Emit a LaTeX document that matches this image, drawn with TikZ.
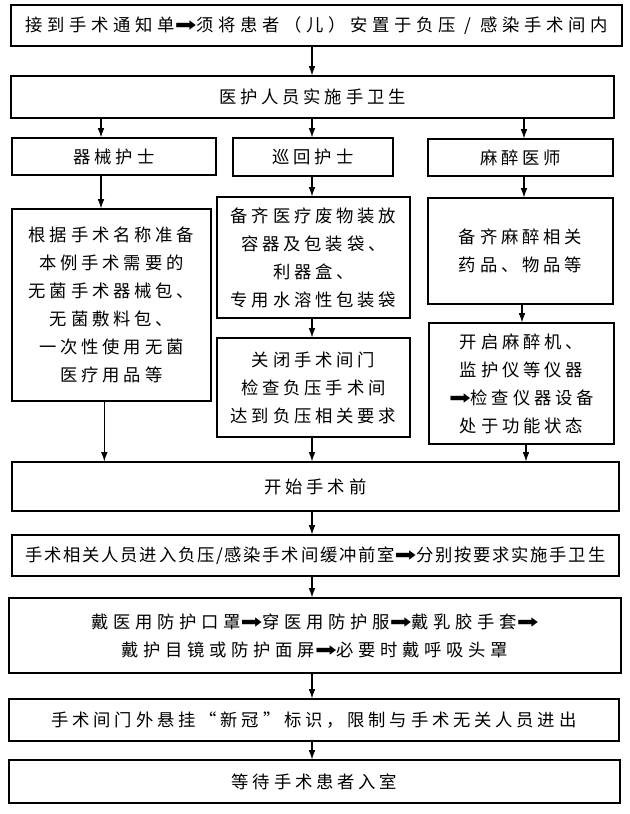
\documentclass[tikz,border=0pt]{standalone}
\usepackage{fontspec}
\usepackage{graphicx}
\usetikzlibrary{arrows.meta}
\newfontfamily\cjk[LetterSpace=22]{Noto Sans CJK SC}
\newfontfamily\cjkwide[LetterSpace=27]{Noto Sans CJK SC}
\newfontfamily\cjktight[LetterSpace=10]{Noto Sans CJK SC}
\newfontfamily\symfont{DejaVu Sans}
\newcommand{\rarr}{\scalebox{1.5}[1.1]{\symfont ➡}}

\begin{document}
\begin{tikzpicture}[x=0.75pt,y=-0.75pt,
   box/.style={draw,line width=0.8pt,inner sep=0pt,align=center,
     font=\cjk\fontsize{13}{21}\selectfont},
   wide/.style={font=\cjkwide\fontsize{13}{21}\selectfont},
   tight/.style={font=\cjktight\fontsize{13}{21}\selectfont},
   sz/.style 2 args={minimum width=#1*0.75pt,minimum height=#2*0.75pt},
   arr/.style={-{Latex[length=7pt,width=5pt]},line width=0.8pt}]
   \useasboundingbox (0,0) rectangle (630,814);
   \coordinate (cl) at (101,0);
   \coordinate (cm) at (312,0);
   \coordinate (cr) at (524,0);
   \node[box,wide,sz={611}{41}] (b1) at (316.5,25.5) {接到手术通知单\rarr 须将患者（儿）安置于负压 / 感染手术间内};
   \node[box,sz={603}{42}] (b2) at (312.5,97) {医护人员实施手卫生};
   \node[box,sz={204}{37}] (qx) at (114,156.5) {器械护士};
   \node[box,sz={160}{38}] (xh) at (313,157) {巡回护士};
   \node[box,sz={185}{37}] (mz) at (520.5,157.5) {麻醉医师};
   \node[box,sz={199}{192}] (qx1) at (111.5,305) {根据手术名称准备\\本例手术需要的\\无菌手术器械包、\\无菌敷料包、\\一次性使用无菌\\医疗用品等};
   \node[box,sz={193}{121}] (xh1) at (313.5,257.5) {备齐医疗废物装放\\容器及包装袋、\\利器盒、\\专用水溶性包装袋};
   \node[box,sz={193}{99}] (xh2) at (313.5,387.5) {关闭手术间门\\检查负压手术间\\达到负压相关要求};
   \node[box,sz={185}{106}] (mz1) at (520.5,251) {备齐麻醉相关\\药品、物品等};
   \node[box,sz={185}{121}] (mz2) at (521.5,383.5) {开启麻醉机、\\监护仪等仪器\\\rarr 检查仪器设备\\处于功能状态};
   \node[box,sz={607}{49}] (b6) at (315.5,486.5) {开始手术前};
   \node[box,tight,sz={607}{41}] (b7) at (315.5,555.5) {手术相关人员进入负压/感染手术间缓冲前室\rarr 分别按要求实施手卫生};
   \node[box,wide,sz={612}{75}] (b8) at (315,635.5) {戴医用防护口罩\rarr 穿医用防护服\rarr 戴乳胶手套\rarr\\戴护目镜或防护面屏\rarr 必要时戴呼吸头罩};
   \node[box,sz={610}{42}] (b9) at (314,720) {手术间门外悬挂“新冠”标识，限制与手术无关人员进出};
   \node[box,sz={611}{43}] (b10) at (314.5,781.5) {等待手术患者入室};
   \draw[arr] (b1.south -| cm) -- (b2.north -| cm);
   \draw[arr] (b2.south -| cl) -- (qx.north -| cl);
   \draw[arr] (b2.south -| cm) -- (xh.north -| cm);
   \draw[arr] (b2.south -| cr) -- (mz.north -| cr);
   \draw[arr] (qx.south -| cl) -- (qx1.north -| cl);
   \draw[arr] (xh.south -| cm) -- (xh1.north -| cm);
   \draw[arr] (mz.south -| cr) -- (mz1.north -| cr);
   \draw[arr] (xh1.south -| cm) -- (xh2.north -| cm);
   \draw[arr] ([xshift=-1.5pt]mz1.south -| cr) -- ([xshift=-1.5pt]mz2.north -| cr);
   \draw[arr] ([xshift=2.5pt]qx1.south -| cl) -- ([xshift=2.5pt]b6.north -| cl);
   \draw[arr] (xh2.south -| cm) -- (b6.north -| cm);
   \draw[arr] ([xshift=1.5pt]mz2.south -| cr) -- ([xshift=1.5pt]b6.north -| cr);
   \draw[arr] (b6.south -| cm) -- (b7.north -| cm);
   \draw[arr] (b7.south -| cm) -- (b8.north -| cm);
   \draw[arr] (b8.south -| cm) -- (b9.north -| cm);
   \draw[arr] (b9.south -| cm) -- (b10.north -| cm);
\end{tikzpicture}
\end{document}
